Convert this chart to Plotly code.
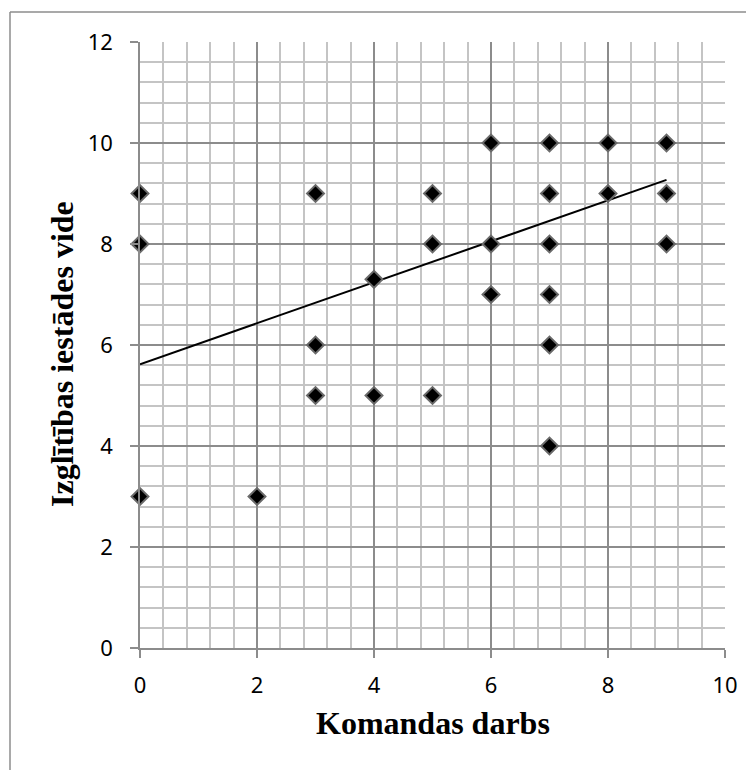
import plotly.graph_objects as go

# Data
komandas_darbs = [0, 0, 0, 2, 3, 3, 3, 4, 4, 5, 5, 5, 6, 6, 6, 7, 7, 7, 7, 7, 7, 8, 8, 9, 9, 9]
izglitibas_vide = [9, 8, 3, 3, 9, 6, 5, 7.3, 5, 9, 8, 5, 10, 8, 7, 10, 9, 8, 7, 6, 4, 10, 9, 10, 9, 8]
trend_x = [0, 9]
trend_y = [5.62, 9.27]

x_ticks = [0, 2, 4, 6, 8, 10]
y_ticks = [0, 2, 4, 6, 8, 10, 12]

OFF = 8  # body margin of the page
W, H = 754 - OFF, 770 - OFF
L, R, T, B = 140, 725, 42, 648  # target plot area in window pixels


def px(xp):
    return (xp - L) / (R - L)


def py(yp):
    return (B - yp) / (B - T)


fig = go.Figure()
fig.add_trace(go.Scatter(
    x=trend_x, y=trend_y, mode="lines",
    line=dict(color="black", width=2),
    showlegend=False, hoverinfo="skip",
))
fig.add_trace(go.Scatter(
    x=komandas_darbs, y=izglitibas_vide, mode="markers",
    marker=dict(symbol="diamond", size=13, color="black",
                line=dict(color="#6a6a6a", width=2)),
    cliponaxis=False, showlegend=False,
))

tickfont = dict(family="Noto Sans", size=22, color="black")
common = dict(
    showgrid=True, gridcolor="#8c8c8c", gridwidth=1.5,
    showline=True, linecolor="#8c8c8c", linewidth=1.5, zeroline=False,
    ticks="outside", ticklen=8, tickwidth=1.5, tickcolor="#8c8c8c",
    tickfont=tickfont,
)
fig.update_xaxes(
    range=[0, 10], tickvals=x_ticks, ticktext=[str(v) for v in x_ticks],
    minor=dict(dtick=0.4, tick0=0, showgrid=True, gridcolor="#c4c4c4", gridwidth=1.5),
    ticklabelstandoff=9, **common,
)
fig.update_yaxes(
    range=[0, 12], tickvals=y_ticks, ticktext=[str(v) for v in y_ticks],
    minor=dict(dtick=0.4, tick0=0, showgrid=True, gridcolor="#c4c4c4", gridwidth=1.5),
    ticklabelstandoff=13, **common,
)

titlefont = dict(family="Liberation Serif", size=32, color="black")
fig.add_annotation(
    text="<b>Komandas darbs</b>", xref="paper", yref="paper",
    x=px(432.5), y=py(723), xanchor="center", yanchor="middle",
    showarrow=False, font=titlefont,
)
fig.add_annotation(
    text="<b>Izglītības iestādes vide</b>", xref="paper", yref="paper",
    x=px(62), y=py(354), xanchor="center", yanchor="middle", textangle=-90,
    showarrow=False, font=titlefont,
)

# outer frame: only left and top edges are visible in the window
frame = dict(color="#8c8c8c", width=1.5)
fig.add_shape(type="line", xref="paper", yref="paper",
              x0=px(10), x1=px(10), y0=py(12), y1=py(770), line=frame, layer="below")
fig.add_shape(type="line", xref="paper", yref="paper",
              x0=px(10), x1=px(754), y0=py(12), y1=py(12), line=frame, layer="below")

fig.update_layout(
    width=W, height=H,
    margin=dict(l=L - OFF, r=W - (R - OFF), t=T - OFF, b=H - (B - OFF)),
    paper_bgcolor="white", plot_bgcolor="white",
)

fig.write_html("out.html")
